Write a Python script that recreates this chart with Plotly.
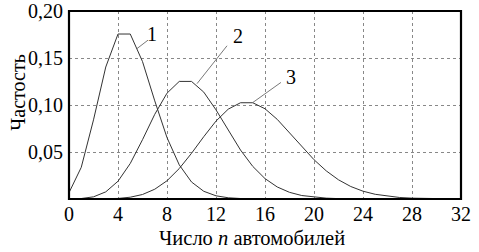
import plotly.graph_objects as go

x1 = list(range(0, 17))
y1 = [0.0067, 0.0337, 0.0842, 0.1404, 0.1755, 0.1755, 0.1462, 0.1044, 0.0653,
      0.0363, 0.0181, 0.0082, 0.0034, 0.0013, 0.0005, 0.0002, 0.0000]
x2 = list(range(0, 25))
y2 = [0.0000, 0.0005, 0.0023, 0.0076, 0.0189, 0.0378, 0.0631, 0.0901, 0.1126,
      0.1251, 0.1251, 0.1137, 0.0948, 0.0729, 0.0521, 0.0347, 0.0217, 0.0128,
      0.0071, 0.0037, 0.0019, 0.0009, 0.0004, 0.0002, 0.0000]
x3 = list(range(0, 33))
y3 = [0.0000, 0.0000, 0.0000, 0.0002, 0.0006, 0.0019, 0.0048, 0.0104, 0.0194,
      0.0324, 0.0486, 0.0663, 0.0829, 0.0956, 0.1024, 0.1024, 0.0960, 0.0847,
      0.0706, 0.0557, 0.0418, 0.0299, 0.0204, 0.0133, 0.0083, 0.0050, 0.0029,
      0.0016, 0.0009, 0.0005, 0.0002, 0.0001, 0.0000]

labels = ["1", "2", "3"]
label_pos = [(6.8, 0.1757), (13.8, 0.1735), (18.1, 0.130)]
leaders = [((6.45, 0.169), (5.55, 0.160)),
           ((12.9, 0.163), (10.45, 0.1227)),
           ((17.3, 0.124), (15.0, 0.1026))]

x_ticks = [0, 4, 8, 12, 16, 20, 24, 28, 32]
y_ticks = [0.05, 0.10, 0.15, 0.20]
x_title = "Число <i>n</i> автомобилей"
y_title = "Частость"

FONT = "'Liberation Serif', 'Times New Roman', 'DejaVu Serif', serif"
fig = go.Figure()
for xs, ys in [(x1, y1), (x2, y2), (x3, y3)]:
    fig.add_trace(go.Scatter(x=xs, y=ys, mode="lines",
                             line=dict(color="#333333", width=1),
                             showlegend=False, hoverinfo="skip"))

for (a, b) in leaders:
    fig.add_trace(go.Scatter(x=[a[0], b[0]], y=[a[1], b[1]], mode="lines",
                             line=dict(color="#555555", width=0.8),
                             showlegend=False, hoverinfo="skip"))

for lab, (lx, ly) in zip(labels, label_pos):
    fig.add_annotation(x=lx, y=ly, text=lab, showarrow=False,
                       font=dict(family=FONT, size=20, color="black"))

fig.add_annotation(xref="paper", yref="paper", x=0.467, y=0, yshift=-39,
                   xanchor="center", yanchor="middle", text=x_title,
                   showarrow=False, font=dict(family=FONT, size=20.5))
fig.add_annotation(xref="paper", yref="paper", x=-0.130, y=0.566,
                   xanchor="center", yanchor="middle", text=y_title,
                   textangle=-90, showarrow=False,
                   font=dict(family=FONT, size=20))

fig.add_shape(type="rect", xref="paper", yref="paper", x0=0, y0=0, x1=1, y1=1,
              line=dict(color="black", width=2.2), layer="above")

fig.update_layout(
    width=479, height=252,
    margin=dict(l=69, r=18, t=11, b=53),
    paper_bgcolor="white", plot_bgcolor="white",
    separators=", ",
    font=dict(family=FONT, size=20, color="black"),
    xaxis=dict(range=[0, 32], tickvals=x_ticks, ticks="", showline=False,
               zeroline=False, showgrid=True, gridcolor="#888888",
               griddash="dot", gridwidth=1, ticklabelstandoff=1,
               automargin=False, ticklabeloverflow="allow"),
    yaxis=dict(range=[0, 0.2], tickvals=y_ticks, tickformat=".2f", ticks="",
               showline=False, zeroline=False, showgrid=True,
               gridcolor="#888888", griddash="dot", gridwidth=1,
               ticklabelstandoff=5, automargin=False,
               ticklabeloverflow="allow"),
)

fig.write_html("out.html")
